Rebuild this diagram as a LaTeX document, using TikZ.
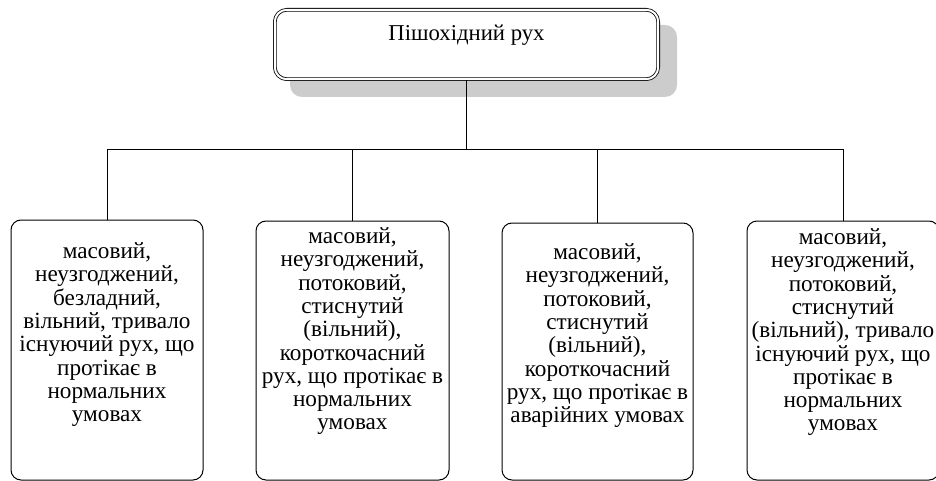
\documentclass[tikz,border=0pt]{standalone}
\usepackage{fontspec}
\setmainfont{Liberation Serif}
\begin{document}
\begin{tikzpicture}[x=1pt,y=-1pt,
  box/.style={draw, line width=1pt, rounded corners=10pt, inner sep=0pt},
  txt/.style={align=center, font=\fontsize{23.2}{23.3}\selectfont, inner sep=0pt, anchor=north},
  conn/.style={line width=0.9pt}]
\useasboundingbox (0,0) rectangle (936,481);
% shadow of the title box
\fill[gray!40, rounded corners=12pt] (290,25) rectangle (677,97);
\node[draw, double, double distance=2pt, line width=0.8pt, rounded corners=12pt, fill=white,
      minimum width=383.4pt, minimum height=69.4pt, inner sep=0pt] (top) at (466.5,44.5) {};
\node[font=\fontsize{22.7}{23.3}\selectfont, inner sep=0pt, anchor=base] (toptext) at (466.5,40.5) {Пішохідний рух};
% boxes
\node[box, minimum width=192pt, minimum height=260pt] (b1) at (107,350) {};
\node[box, minimum width=193pt, minimum height=259pt] (b2) at (352.5,350.5) {};
\node[box, minimum width=191pt, minimum height=257pt] (b3) at (597.5,351.5) {};
\node[box, minimum width=192pt, minimum height=259pt] (b4) at (843,350.5) {};
\node[txt] (t1) at ([yshift=-23pt]b1.north) {масовий,\\неузгоджений,\\безладний,\\вільний, тривало\\існуючий рух, що\\протікає в\\нормальних\\умовах};
\node[txt] (t2) at ([yshift=-7pt]b2.north) {масовий,\\неузгоджений,\\потоковий,\\стиснутий\\(вільний),\\короткочасний\\рух, що протікає в\\нормальних\\умовах};
\node[txt] (t3) at ([yshift=-21pt]b3.north) {масовий,\\неузгоджений,\\потоковий,\\стиснутий\\(вільний),\\короткочасний\\рух, що протікає в\\аварійних умовах};
\node[txt] (t4) at ([yshift=-8pt]b4.north) {масовий,\\неузгоджений,\\потоковий,\\стиснутий\\(вільний), тривало\\існуючий рух, що\\протікає в\\нормальних\\умовах};
% connectors
\coordinate (j) at (466.5,149);
\draw[conn] (top.south) -- (j);
\draw[conn] (b1.north) -- (b1.north |- j) -- (b4.north |- j) -- (b4.north);
\draw[conn] (b2.north) -- (b2.north |- j);
\draw[conn] (b3.north) -- (b3.north |- j);
\end{tikzpicture}
\end{document}
